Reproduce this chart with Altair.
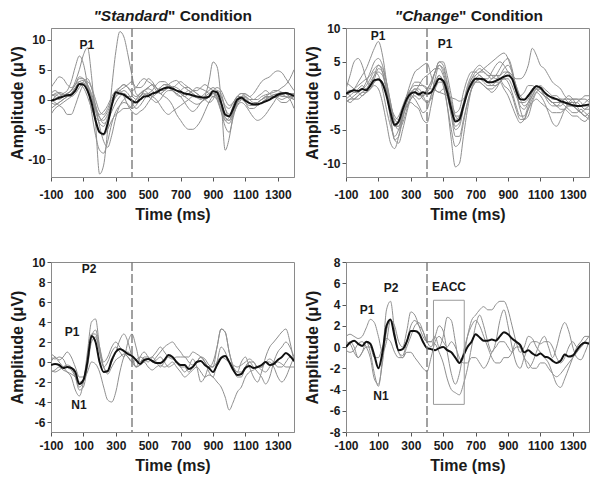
import altair as alt
import pandas as pd

# time grid (ms), 25 ms steps from -100 to 1400
T = list(range(-100, 1401, 25))
X_TICKS = [-100, 100, 300, 500, 700, 900, 1100, 1300]

# ---------------- Panel 1: "Standard" condition (individual subjects + mean)
STD_MEAN = [-0.2,0.0,0.3,0.5,0.7,0.8,1.5,2.6,2.5,1.5,
            -0.5,-3.5,-5.5,-5.8,-4.0,-1.0,1.2,1.0,0.8,0.3,
            -0.2,-0.5,0.0,0.5,0.6,1.0,1.2,1.6,1.9,2.0,
            1.8,1.5,1.3,1.0,0.9,0.7,0.5,0.4,0.3,0.5,
            1.4,1.2,-0.5,-2.5,-2.8,-1.5,0.0,0.3,-0.2,-0.6,
            -0.8,-0.8,-0.6,-0.3,0.0,0.4,0.8,1.0,1.1,0.9,
            0.6]
STD_SUBJ = [
    [-0.5,0.5,1.0,0.8,1.0,1.5,3.0,5.0,7.5,8.7,
     4.0,-4.0,-12.5,-11.0,-5.0,2.0,8.0,11.4,10.5,7.5,
     4.0,1.0,0.5,1.5,2.0,2.5,2.0,1.0,1.5,2.0,
     1.5,0.8,0.5,1.0,1.5,1.0,0.5,0.2,0.5,0.5,
     1.0,0.5,-1.0,-3.0,-3.5,-2.0,-0.5,0.5,0.0,-0.5,
     -1.0,-1.0,-0.5,0.0,0.3,0.8,1.0,1.2,1.0,0.5,
     0.5],
    [0.5,0.8,0.5,1.0,1.5,3.0,5.5,7.3,6.0,2.5,
     -2.0,-6.0,-8.5,-9.0,-7.0,-4.0,-2.0,-1.0,-0.5,-0.8,
     -1.5,-1.0,0.0,0.8,1.0,0.5,0.0,-1.0,-2.0,-2.5,
     -2.0,-1.5,-1.0,-0.5,0.0,0.5,0.3,0.0,0.5,1.0,
     1.5,0.5,-2.0,-4.5,-5.5,-3.0,-0.5,0.5,0.0,-0.5,
     -1.0,-0.5,0.0,0.5,0.5,0.3,0.5,0.8,1.0,0.8,
     0.5],
    [1.0,1.5,1.0,0.5,1.0,1.5,2.5,3.5,3.5,2.5,
     0.5,-2.0,-4.0,-4.5,-3.0,-1.0,1.0,2.0,2.5,2.0,
     1.0,0.5,1.0,1.5,1.8,1.5,1.0,1.5,2.0,2.2,
     2.0,1.5,1.0,0.5,0.0,-0.5,-0.8,-0.5,0.5,3.0,
     6.3,5.5,0.0,-8.5,-6.5,-2.5,0.0,0.5,0.3,-0.5,
     -1.0,-0.8,-0.5,0.0,0.5,0.8,0.8,0.5,0.5,0.3,
     0.0],
    [-0.5,-0.8,-0.5,0.0,0.5,1.0,2.0,2.5,2.0,0.5,
     -1.5,-3.0,-3.5,-3.0,-2.0,-0.5,0.5,1.0,1.5,1.0,
     0.0,-0.5,0.5,1.5,2.0,2.5,2.0,1.0,0.5,0.0,
     -1.0,-2.5,-3.5,-4.5,-5.0,-5.0,-4.5,-3.5,-2.0,-0.5,
     0.5,0.0,-1.5,-3.5,-4.0,-2.5,-1.0,-0.5,-1.0,-2.0,
     -3.0,-3.5,-3.2,-2.5,-1.5,-0.5,0.5,0.8,0.5,0.0,
     -1.5],
    [-2.5,-1.5,-1.0,-0.5,0.0,0.5,1.5,2.5,2.8,2.0,
     0.5,-1.5,-3.0,-3.5,-2.5,-1.0,0.5,1.5,2.0,2.5,
     3.0,2.0,2.0,2.5,3.5,3.0,2.0,1.5,1.5,2.0,
     2.2,2.0,1.5,1.0,1.0,1.5,2.0,1.8,1.5,1.0,
     0.5,0.8,0.5,-1.5,-2.5,-1.5,-0.5,0.5,0.8,0.5,
     0.0,0.0,0.5,0.8,1.0,1.2,1.5,2.0,2.5,3.5,
     5.0],
    [2.0,3.0,3.8,3.5,2.5,2.0,2.5,3.0,2.5,1.5,
     0.0,-1.5,-2.5,-2.0,-1.0,0.5,1.5,2.0,2.5,2.0,
     1.5,2.0,3.0,3.5,3.0,2.5,1.5,1.0,1.5,2.5,
     3.0,3.2,2.5,2.0,1.5,1.0,0.5,0.5,1.0,1.5,
     2.0,1.5,0.5,-1.0,-1.5,-0.5,0.5,1.0,1.0,0.5,
     1.0,2.0,3.0,3.5,3.8,4.5,4.8,4.5,3.5,2.5,
     1.5],
    [0.0,-0.5,-1.0,-1.5,-2.5,-2.5,-1.0,1.0,2.5,3.0,
     2.0,0.0,-2.0,-2.5,-1.5,0.0,1.0,1.5,0.5,-1.0,
     -2.0,-2.5,-2.0,-1.5,-0.5,0.5,1.5,2.0,2.5,2.5,
     2.0,1.5,1.0,0.5,1.0,1.5,1.0,0.5,0.0,-0.5,
     0.0,1.5,1.0,-1.5,-3.0,-2.5,-1.0,0.0,0.5,0.0,
     -0.5,-0.5,0.0,0.3,0.5,0.5,0.3,0.0,0.3,0.5,
     0.8],
    [1.0,0.5,0.0,0.5,1.0,1.5,2.5,3.8,3.5,2.0,
     -0.5,-3.5,-5.5,-6.0,-5.0,-3.5,-2.5,-2.0,-1.5,-1.5,
     -1.0,0.0,1.0,1.5,1.0,0.5,1.0,2.0,2.5,2.0,
     1.5,1.0,0.5,-0.5,-1.5,-2.0,-1.5,-0.5,0.0,0.5,
     1.0,0.5,-1.0,-3.0,-3.5,-2.0,-0.5,0.0,-0.5,-1.0,
     -1.0,-0.5,0.0,0.5,1.0,1.5,1.5,1.2,1.0,0.5,
     0.0],
    [0.5,1.0,1.2,1.0,0.5,0.5,1.0,2.0,3.0,3.5,
     2.0,-1.0,-4.5,-7.0,-8.0,-6.0,-3.0,-1.0,0.0,0.5,
     0.5,0.0,0.5,1.0,0.5,0.0,-0.5,0.0,1.0,1.5,
     1.5,1.0,1.5,2.0,2.0,1.5,1.5,2.0,2.5,2.0,
     1.5,0.0,-2.0,-3.5,-3.0,-1.0,0.5,1.0,0.5,0.0,
     0.0,0.5,1.0,1.5,1.0,0.5,0.5,1.0,1.2,1.0,
     1.0],
    [-1.5,-1.0,-0.5,0.0,0.5,1.0,2.0,3.0,3.2,2.5,
     1.0,-1.0,-3.0,-4.0,-3.5,-2.0,-0.5,0.5,1.0,0.5,
     -0.5,-1.5,-1.0,0.0,1.0,1.5,2.5,3.0,3.0,2.5,
     2.0,2.5,3.0,2.5,2.0,1.5,1.0,0.5,0.0,0.5,
     1.5,2.0,1.5,0.0,-1.0,-0.5,0.5,0.5,-0.5,-1.5,
     -1.5,-1.0,-0.5,0.0,0.5,0.5,0.0,-0.5,-0.5,0.0,
     0.5],
]

# ---------------- Panel 2: "Change" condition
CHG_MEAN = [0.3,0.6,0.8,0.7,1.0,0.8,1.5,2.3,2.4,1.8,
            0.0,-2.5,-4.3,-3.8,-2.0,-0.5,0.3,0.5,0.2,0.5,
            0.3,0.5,1.5,2.5,2.2,0.5,-2.0,-3.8,-3.5,-1.5,
            0.5,1.8,2.5,2.5,2.4,2.0,2.0,2.2,2.5,2.8,
            3.0,2.5,0.8,-0.5,-0.6,0.0,0.8,1.4,1.2,0.5,
            0.0,-0.3,-0.5,-0.8,-1.0,-1.2,-1.4,-1.5,-1.5,-1.4,
            -1.3]
CHG_SUBJ = [
    [0.0,0.5,1.0,2.0,3.0,4.0,5.5,7.0,8.0,6.0,
     2.0,-3.0,-6.5,-6.0,-3.5,-1.0,0.5,1.0,0.5,-0.5,
     -1.0,0.0,2.5,4.5,4.0,1.5,-2.0,-4.5,-4.0,-1.5,
     1.0,2.5,3.0,3.5,3.5,3.0,2.5,3.0,4.0,5.0,
     5.5,4.0,1.0,-1.5,-2.0,-1.0,0.5,1.5,1.0,0.0,
     -0.5,-1.0,-1.5,-2.0,-2.0,-1.5,-1.5,-2.0,-2.5,-2.0,
     -1.5],
    [1.0,3.0,5.0,5.5,4.5,2.5,1.5,2.5,4.0,3.5,
     1.0,-2.0,-4.5,-4.5,-2.5,0.0,2.0,3.5,4.0,4.5,
     4.8,3.0,1.0,0.5,1.0,0.5,-1.0,-2.5,-2.0,0.5,
     2.5,3.5,3.5,3.0,2.5,2.5,3.5,4.5,5.0,4.5,
     3.5,2.5,1.0,0.0,0.5,1.5,1.5,1.0,0.5,0.0,
     -0.5,-1.0,-1.5,-1.5,-1.0,-1.0,-1.5,-2.0,-2.5,-3.0,
     -3.5],
    [-0.5,0.0,0.5,0.5,1.0,1.5,2.5,3.5,3.0,1.0,
     -2.0,-4.5,-6.0,-5.0,-3.0,-1.5,-1.0,-1.5,-2.0,-3.5,
     -4.0,-1.5,1.5,3.0,2.0,-1.5,-6.5,-10.5,-10.0,-6.0,
     -2.0,1.0,2.5,3.0,2.5,2.0,2.5,3.0,2.5,1.5,
     1.0,0.0,-2.0,-3.5,-3.5,-2.0,-0.5,0.5,0.0,-1.0,
     -2.5,-4.0,-4.5,-3.5,-2.0,-1.0,-0.5,-0.5,-1.0,-1.5,
     -1.5],
    [0.5,0.8,0.5,1.0,1.5,1.0,1.5,3.0,4.5,3.5,
     0.5,-3.5,-6.5,-7.0,-5.0,-2.5,-0.5,0.0,-0.5,0.0,
     1.0,2.0,3.5,5.0,5.0,3.0,0.0,-3.0,-3.5,-1.5,
     1.0,2.5,3.5,4.0,3.5,3.0,3.0,3.0,3.0,3.5,
     3.5,3.0,2.5,2.5,3.0,4.5,7.0,6.0,4.5,4.0,
     3.0,2.0,1.5,1.0,0.0,-0.5,-0.5,-0.5,-0.5,0.0,
     0.0],
    [-1.0,-0.5,0.0,0.5,1.0,2.0,3.5,5.0,5.5,4.5,
     2.0,-1.0,-3.5,-4.0,-2.5,-0.5,1.0,2.0,2.0,1.5,
     1.0,2.0,3.5,4.5,3.5,1.0,-2.5,-5.0,-4.5,-2.0,
     0.5,2.0,3.0,3.5,4.0,4.5,5.0,5.5,6.0,6.3,
     5.5,3.5,0.5,-2.0,-3.5,-3.0,-1.0,0.5,1.0,0.5,
     -0.5,-1.0,-1.0,-1.0,-1.5,-2.0,-2.5,-2.5,-2.0,-2.5,
     -3.0],
    [2.0,1.5,1.0,0.5,0.0,0.5,1.0,2.0,2.5,2.0,
     0.5,-1.5,-3.0,-3.5,-2.0,0.0,1.0,1.5,1.5,1.5,
     1.2,1.0,0.8,0.5,0.3,0.0,-0.3,-0.5,-0.8,-0.5,
     0.5,1.5,2.0,2.0,1.5,1.0,1.0,1.5,2.0,2.5,
     2.5,1.5,0.0,-1.0,-1.0,-0.5,0.5,1.0,0.5,0.0,
     -0.5,-1.0,-1.0,-1.0,-0.5,-0.5,-1.0,-1.5,-1.5,-1.0,
     -0.5],
    [-0.5,-1.0,-0.5,0.0,0.5,0.5,1.0,1.5,1.0,-1.0,
     -4.0,-7.0,-7.8,-6.0,-3.0,-1.0,0.0,-0.5,-1.5,-2.5,
     -2.0,0.0,2.0,3.0,1.5,-1.5,-5.0,-7.5,-7.0,-4.0,
     -1.0,1.0,2.0,2.5,2.0,1.5,1.5,2.0,2.0,1.0,
     0.0,-1.5,-3.0,-4.0,-3.5,-2.0,-1.0,-0.5,-1.0,-1.5,
     -2.0,-2.5,-2.5,-2.5,-2.0,-2.5,-3.0,-3.0,-3.5,-3.8,
     -3.0],
    [0.5,0.0,-0.5,-0.5,0.0,0.5,1.0,2.0,2.5,2.0,
     0.0,-2.5,-4.5,-4.5,-3.0,-1.5,-0.5,0.5,1.5,2.5,
     3.0,3.5,4.0,4.0,3.0,1.0,-1.5,-3.5,-3.0,-1.0,
     1.5,3.0,4.0,4.5,4.0,3.5,3.0,2.5,3.0,4.0,
     4.5,3.5,1.5,-0.5,-1.5,-1.0,0.0,1.0,1.5,1.0,
     0.5,0.0,0.0,-0.5,-0.5,-1.0,-1.0,-1.0,-1.5,-2.0,
     -2.0],
    [-1.0,-0.5,-0.5,0.0,0.5,1.0,2.0,3.0,3.5,3.0,
     1.0,-1.5,-3.5,-3.0,-1.5,0.0,0.5,0.5,0.0,0.0,
     0.5,1.5,3.5,5.0,4.5,2.0,-1.0,-3.0,-3.0,-1.5,
     0.5,2.0,2.5,2.0,1.5,1.0,0.5,1.0,2.0,3.0,
     3.5,3.0,1.5,0.0,-0.5,0.0,1.0,1.5,1.0,0.5,
     0.0,-0.5,-0.5,-0.5,-1.0,-1.5,-1.5,-1.0,-0.5,-0.5,
     -1.0],
    [0.0,0.5,1.0,1.5,2.0,2.5,3.0,4.0,4.5,4.0,
     2.0,-1.0,-4.0,-5.0,-4.0,-2.0,0.0,1.0,1.0,0.0,
     -1.0,-0.5,1.0,2.0,2.0,0.0,-3.0,-6.0,-6.0,-3.5,
     -1.0,1.0,2.0,2.5,2.5,2.0,1.5,1.5,2.0,2.5,
     2.0,0.5,-1.5,-3.0,-3.0,-1.5,0.0,1.0,1.0,0.0,
     -1.0,-1.5,-1.5,-1.0,-0.5,0.0,-0.5,-1.5,-2.5,-3.0,
     -2.5],
]

# ---------------- Panel 3: bottom-left
BL_MEAN = [-0.3,-0.2,-0.3,-0.6,-0.5,-0.6,-1.0,-2.2,-1.8,0.0,
           2.6,2.0,0.0,-1.0,-0.9,0.2,1.0,1.3,1.1,0.8,
           0.6,0.2,-0.2,0.2,0.3,0.1,-0.1,-0.1,0.2,0.7,
           0.5,0.0,-0.3,-0.3,-0.7,-0.5,0.0,0.1,-0.3,-0.6,
           -1.0,-0.3,0.4,0.6,0.0,-0.8,-1.3,-1.2,-0.6,-0.4,
           -0.6,-0.5,-0.3,0.0,-0.3,-0.2,0.2,0.5,0.9,0.6,
           0.1]
BL_SUBJ = [
    [0.8,0.5,0.0,-0.5,-1.0,-1.5,-2.8,-3.4,-2.0,1.0,
     4.0,4.3,1.5,-0.5,-1.0,0.0,1.0,2.2,2.8,2.0,
     0.5,-0.5,0.5,1.0,0.5,0.0,0.5,1.0,1.5,1.8,
     2.0,1.5,1.0,0.5,0.5,1.0,0.8,0.5,0.0,-0.5,
     0.0,1.5,3.3,3.0,1.0,-0.5,-1.0,0.0,0.5,-0.5,
     -1.5,-2.0,-1.0,0.5,1.5,2.0,2.5,3.0,3.3,2.0,
     0.0],
    [-1.0,-0.8,-0.5,-0.8,-1.0,-1.2,-1.5,-2.0,-1.8,-1.0,
     0.0,-0.2,-1.0,-2.5,-3.8,-4.0,-3.0,-1.0,0.5,1.0,
     0.5,-0.5,-0.3,0.0,-0.5,-0.8,-0.5,-0.3,-0.5,-0.3,
     0.0,-0.5,-1.0,-1.5,-1.2,-0.8,-0.5,-1.0,-1.5,-1.3,
     -1.5,-2.0,-2.5,-3.5,-4.8,-4.0,-3.0,-2.5,-1.5,-1.0,
     -0.8,-0.5,-0.8,-1.0,-0.5,0.0,0.0,-0.2,-0.5,-0.5,
     -0.5],
    [0.5,0.3,0.5,0.3,-0.5,-0.8,-1.5,-2.5,-2.0,0.5,
     2.8,2.8,1.0,-0.5,0.0,1.0,1.5,1.0,0.5,2.0,
     2.8,1.5,0.0,0.5,0.5,0.0,0.2,0.5,0.0,-0.5,
     -0.3,0.0,-0.5,-1.0,-0.5,0.3,-0.5,-2.0,-1.5,-0.5,
     -0.5,1.5,3.3,3.0,1.0,-0.5,-1.5,-1.5,-0.5,0.0,
     -0.5,-1.0,-1.5,-2.2,-1.5,0.0,1.0,1.5,2.0,1.5,
     0.5],
    [0.0,0.5,0.2,0.5,1.0,0.5,-0.5,-1.5,-1.5,0.0,
     2.5,3.2,1.5,0.0,0.5,1.5,2.0,1.5,1.0,0.5,
     0.0,0.2,0.5,0.3,0.0,0.5,1.0,1.5,1.0,0.5,
     0.3,0.5,0.5,0.5,0.0,-0.3,0.0,0.5,0.3,-0.3,
     -0.5,0.0,0.5,0.3,0.0,-0.3,-0.5,-0.3,0.0,0.3,
     0.0,-0.5,-0.5,0.0,0.0,-0.5,-1.5,-2.0,-1.5,-0.5,
     0.5],
    [-0.8,-1.0,-0.8,-0.5,-0.3,-0.5,-1.5,-2.8,-2.5,-0.5,
     2.0,2.5,1.0,-0.5,-1.2,-0.5,0.2,0.5,0.8,0.5,
     0.0,-0.5,-0.3,0.0,0.3,0.5,0.0,-0.5,0.0,0.5,
     0.5,0.0,-0.5,-0.5,-1.0,-0.5,0.0,0.5,0.0,-1.0,
     -1.5,0.0,1.5,1.0,0.0,-0.5,-1.0,-1.0,-0.5,0.0,
     0.0,-0.5,-0.5,0.0,0.3,0.0,-0.5,-0.5,0.0,0.5,
     0.0],
]

# ---------------- Panel 4: bottom-right
BR_MEAN = [0.0,0.4,0.6,0.3,0.1,0.5,0.3,-0.8,-2.0,-0.5,
           2.0,2.6,1.0,-0.3,-0.2,0.5,1.5,1.5,1.3,0.5,
           -0.1,-0.2,-0.3,-0.1,0.0,-0.3,-0.5,-1.0,-1.5,-0.8,
           0.0,0.5,1.2,0.9,0.6,0.6,0.7,0.6,1.0,1.4,
           1.2,0.8,0.5,0.2,-0.5,-0.3,-0.6,-0.8,-0.6,-0.9,
           -1.0,-1.3,-1.5,-1.3,-0.7,-0.9,-0.8,-0.3,0.2,0.4,
           0.3]
BR_SUBJ = [
    [1.0,1.2,1.0,0.8,1.0,1.8,2.6,2.3,1.0,-0.5,
     0.5,2.5,2.0,0.5,0.0,1.5,3.3,3.0,2.0,1.0,
     0.5,0.5,0.3,-0.5,-1.5,-3.0,-4.0,-4.3,-4.5,-3.5,
     -2.0,0.0,2.0,3.0,2.0,0.5,-0.5,0.5,2.5,3.5,
     2.0,0.0,-1.5,-2.0,-1.0,0.0,0.5,0.5,0.3,0.5,
     0.5,0.0,-1.0,-1.5,-1.0,0.0,0.5,0.0,0.0,0.5,
     1.0],
    [0.0,0.5,0.0,-1.0,-0.5,0.5,-0.5,-2.5,-3.7,-1.0,
     3.5,4.3,1.5,-0.5,-1.0,0.0,1.0,2.0,2.3,1.5,
     0.5,0.5,1.0,0.0,1.0,2.8,2.5,0.5,-1.5,-1.0,
     1.0,2.5,3.0,3.5,3.8,3.5,3.5,4.0,4.3,4.3,
     3.5,2.0,0.5,-0.5,0.0,1.0,0.8,0.0,-0.5,-1.0,
     -1.5,-2.5,-3.5,-3.8,-3.0,-2.0,-1.0,0.0,0.5,1.0,
     1.0],
    [-0.3,-0.5,-0.3,0.3,0.5,0.0,-1.0,-3.0,-3.5,-1.5,
     1.5,2.5,1.0,-0.5,-0.8,0.5,2.0,2.5,2.0,1.5,
     0.5,0.0,1.0,2.0,1.5,-0.5,-2.5,-3.5,-2.5,-0.5,
     1.0,2.0,2.5,2.0,1.0,0.0,-1.0,-1.5,-1.5,-1.0,
     -1.0,-0.5,0.5,0.0,-1.0,-1.5,-2.0,-2.0,-1.5,-1.5,
     -2.0,-2.5,-2.8,-2.5,-2.0,-1.5,-1.0,-0.5,0.0,0.5,
     0.3],
    [0.5,0.3,-0.5,-1.0,-0.5,0.0,0.0,-1.0,-1.0,0.0,
     0.8,0.5,-0.5,-1.0,-1.0,-0.5,-0.5,-1.0,-1.5,-2.0,
     -2.3,-1.0,0.5,1.0,0.5,0.0,0.5,0.0,-1.0,-1.5,
     -1.5,-1.0,-1.0,-1.5,-2.0,-1.5,-0.5,0.0,0.5,0.5,
     0.0,-0.5,0.0,0.0,-1.0,-2.0,-1.5,-0.5,0.5,1.0,
     0.0,-1.0,0.0,1.5,2.3,1.5,0.0,-1.0,-1.2,-0.5,
     0.5],
]

# annotation labels (text, time ms, amplitude)
STD_NOTES = {"label": ["P1"], "t": [122], "v": [9.2]}
CHG_NOTES = {"label": ["P1", "P1"], "t": [98, 511], "v": [8.8, 7.6]}
BL_NOTES = {"label": ["P2", "P1", "N1"], "t": [135, 30, 73], "v": [9.3, 3.0, -4.3]}
BR_NOTES = {"label": ["P1", "P2", "N1", "EACC"], "t": [30, 178, 116, 536], "v": [3.5, 5.55, -4.6, 5.65]}
EACC_BOX = {"x1": [440], "x2": [630], "y1": [-5.4], "y2": [4.4]}

FONT = "Liberation Sans"
GREY = "#8f8f8f"
PW = 243
LABEL_EXPR = "datum.value < 0 ? '-' + abs(datum.value) : '' + datum.value"


def panel(subjects, mean, ydom, yticks, h, notes, label_pad, title=None, split=113, box=None):
    rows = []
    for k, ser in enumerate(subjects):
        for t, v in zip(T, ser):
            rows.append({"t": t, "v": v, "s": "s%d" % k})
    subj = pd.DataFrame(rows)
    mdf = pd.DataFrame({"t": T, "v": mean})

    xs = alt.Scale(domain=[-100, 1400], nice=False, zero=False)
    ys = alt.Scale(domain=ydom, nice=False, zero=False)
    xax = alt.Axis(values=X_TICKS, title="Time (ms)", labelExpr=LABEL_EXPR, labelFlush=False,
                   labelOverlap=False, labelPadding=label_pad)
    yax = alt.Axis(values=yticks, title="Amplitude (\u03bcV)", labelExpr=LABEL_EXPR, labelOverlap=False)

    def X(f):
        return alt.X(f, type="quantitative", scale=xs, axis=xax)

    def Y(f):
        return alt.Y(f, type="quantitative", scale=ys, axis=yax)

    grey = alt.Chart(subj).mark_line(color=GREY, strokeWidth=1, interpolate="monotone", clip=True).encode(
        x=X("t"), y=Y("v"), detail="s:N")
    black = alt.Chart(mdf).mark_line(color="#111111", strokeWidth=2, interpolate="monotone", clip=True).encode(
        x=X("t"), y=Y("v"))
    rule = alt.Chart(pd.DataFrame({"t": [400]})).mark_rule(color="#7a7a7a", strokeWidth=1.4, strokeDash=[9, 3]).encode(
        x=X("t"))
    texts = alt.Chart(pd.DataFrame(notes)).mark_text(font=FONT, fontSize=12, fontWeight="bold", color="#1a1a1a",
                                                     baseline="middle").encode(
        x=X("t"), y=Y("v"), text="label:N")
    layers = [grey, black, rule, texts]
    if box is not None:
        layers.append(alt.Chart(pd.DataFrame(box)).mark_rect(fillOpacity=0, stroke="#9a9a9a", strokeWidth=1).encode(
            x=X("x1"), x2="x2", y=Y("y1"), y2="y2"))
    if title is not None:
        one = pd.DataFrame({"a": [0]})
        layers.append(alt.Chart(one).mark_text(font=FONT, fontSize=15.5, fontWeight="bold", fontStyle="italic",
                                               align="right", baseline="alphabetic", color="#1a1a1a").encode(
            x=alt.value(split), y=alt.value(-7), text=alt.value(title[0])))
        layers.append(alt.Chart(one).mark_text(font=FONT, fontSize=15.5, fontWeight="bold",
                                               align="left", baseline="alphabetic", color="#1a1a1a").encode(
            x=alt.value(split), y=alt.value(-7), text=alt.value(title[1])))
    return alt.layer(*layers).properties(width=PW, height=h)


p1 = panel(STD_SUBJ, STD_MEAN, [-13, 12], [-10, -5, 0, 5, 10], 149, STD_NOTES, 8,
           ('"Standard', '" Condition'), split=117)
p2 = panel(CHG_SUBJ, CHG_MEAN, [-12, 10], [-10, -5, 0, 5, 10], 149, CHG_NOTES, 8,
           ('"Change', '" Condition'), split=113)
p3 = panel(BL_SUBJ, BL_MEAN, [-7, 10], [-6, -4, -2, 0, 2, 4, 6, 8, 10], 170, BL_NOTES, 4)
p4 = panel(BR_SUBJ, BR_MEAN, [-8, 8], [-8, -6, -4, -2, 0, 2, 4, 6, 8], 170, BR_NOTES, 4, box=EACC_BOX)

chart = alt.vconcat(
    alt.hconcat(p1, p2, spacing=8),
    alt.hconcat(p3, p4, spacing=8),
    spacing=32,
).properties(
    padding={"left": 0, "top": 0, "right": 0, "bottom": 0}
).configure_axis(
    labelFont=FONT, labelFontSize=12, labelFontWeight="bold", labelColor="#1a1a1a",
    titleFont=FONT, titleFontSize=16, titleFontWeight="bold", titleColor="#1a1a1a",
    tickColor="#555555", tickSize=4, domainColor="#8a8a8a", grid=False,
).configure_axisY(
    labelPadding=2, minExtent=22, maxExtent=22, titlePadding=4,
).configure_axisX(
    titlePadding=6,
).configure_view(
    stroke="#8a8a8a", strokeWidth=1,
)

chart.save("out.html", embed_options={"renderer": "svg", "actions": False})
